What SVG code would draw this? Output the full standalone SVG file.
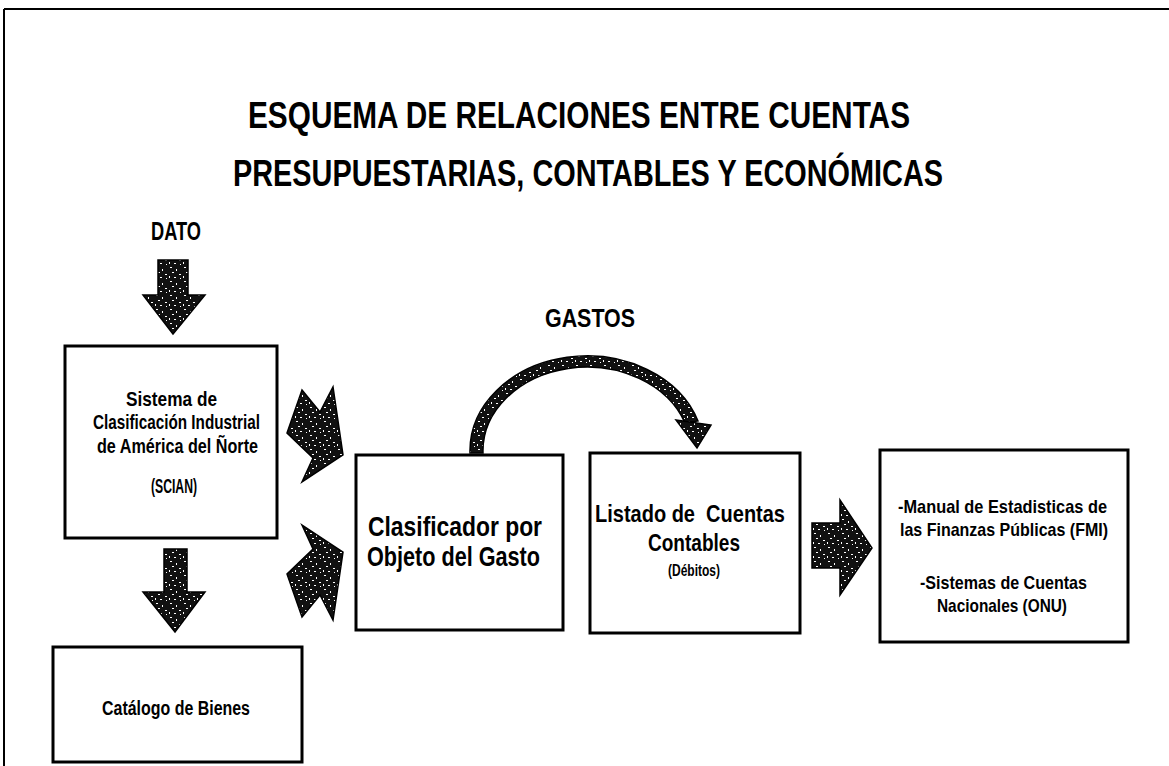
<svg xmlns="http://www.w3.org/2000/svg" width="1169" height="766" viewBox="0 0 1169 766">
<style>
.t{font-family:"Liberation Sans",Arial,sans-serif;font-weight:bold;fill:#000}
.box{fill:#fff;stroke:#000;stroke-width:3}
.blk{fill:url(#mottle);stroke:#000;stroke-width:1.5;stroke-linejoin:miter}
</style>
<defs>
<pattern id="mottle" width="14" height="14" patternUnits="userSpaceOnUse">
<rect width="14" height="14" fill="#111"/>
<rect x="2" y="1" width="2" height="1" fill="#fff"/>
<rect x="8" y="3" width="1" height="2" fill="#fff"/>
<rect x="4" y="6" width="2" height="1" fill="#fff"/>
<rect x="11" y="8" width="2" height="1" fill="#fff"/>
<rect x="1" y="10" width="1" height="2" fill="#fff"/>
<rect x="6" y="11" width="2" height="1" fill="#fff"/>
<rect x="12" y="12" width="1" height="1" fill="#fff"/>
</pattern>
</defs>
<rect width="1169" height="766" fill="#fff"/>
<g id="frame" fill="none" stroke="#000" stroke-width="2">
<path d="M4 9 H1169 M4 9 V766"/>
</g>
<g id="title">
<text class="t" x="248" y="128" font-size="37.5" textLength="662" lengthAdjust="spacingAndGlyphs">ESQUEMA DE RELACIONES ENTRE CUENTAS</text>
<text class="t" x="233" y="186" font-size="37.5" textLength="710" lengthAdjust="spacingAndGlyphs">PRESUPUESTARIAS, CONTABLES Y ECONÓMICAS</text>
</g>
<g id="dato">
<text class="t" x="151" y="240" font-size="25" textLength="50" lengthAdjust="spacingAndGlyphs">DATO</text>
</g>
<g id="gastos">
<text class="t" x="545" y="327" font-size="26" textLength="90" lengthAdjust="spacingAndGlyphs">GASTOS</text>
</g>
<g id="scian">
<rect class="box" x="65" y="346" width="212" height="192"/>
<text class="t" x="126" y="406" font-size="21" textLength="91" lengthAdjust="spacingAndGlyphs">Sistema de</text>
<text class="t" x="93" y="429" font-size="21" textLength="167" lengthAdjust="spacingAndGlyphs">Clasificación Industrial</text>
<text class="t" x="97" y="453" font-size="21" textLength="161" lengthAdjust="spacingAndGlyphs">de América del Ñorte</text>
<text class="t" x="151" y="493" font-size="21" textLength="46" lengthAdjust="spacingAndGlyphs">(SCIAN)</text>
</g>
<g id="catalogo">
<rect class="box" x="53" y="647" width="249" height="115"/>
<text class="t" x="102" y="715" font-size="20" textLength="148" lengthAdjust="spacingAndGlyphs">Catálogo de Bienes</text>
</g>
<g id="clasificador">
<rect class="box" x="356" y="455" width="207" height="175"/>
<text class="t" x="368" y="536" font-size="27" textLength="174" lengthAdjust="spacingAndGlyphs">Clasificador por</text>
<text class="t" x="367" y="566" font-size="27" textLength="173" lengthAdjust="spacingAndGlyphs">Objeto del Gasto</text>
</g>
<g id="listado">
<rect class="box" x="590" y="453" width="210" height="180"/>
<text class="t" x="595" y="522" font-size="24" textLength="190" lengthAdjust="spacingAndGlyphs" xml:space="preserve">Listado de  Cuentas</text>
<text class="t" x="648" y="551" font-size="24" textLength="92" lengthAdjust="spacingAndGlyphs">Contables</text>
<text class="t" x="668" y="576" font-size="17" textLength="52" lengthAdjust="spacingAndGlyphs">(Débitos)</text>
</g>
<g id="manual">
<rect class="box" x="880" y="450" width="248" height="192"/>
<text class="t" x="898" y="513" font-size="19" textLength="209" lengthAdjust="spacingAndGlyphs">-Manual de Estadisticas de</text>
<text class="t" x="900" y="536" font-size="19" textLength="208" lengthAdjust="spacingAndGlyphs">las Finanzas Públicas (FMI)</text>
<text class="t" x="920" y="589" font-size="19" textLength="167" lengthAdjust="spacingAndGlyphs">-Sistemas de Cuentas</text>
<text class="t" x="937" y="612" font-size="19" textLength="130" lengthAdjust="spacingAndGlyphs">Nacionales (ONU)</text>
</g>
<g id="connectors">
<polygon class="blk" points="158,260 188,260 188,295 205,295 173,334 143,295 158,295"/>
<polygon class="blk" points="164,549 187,549 187,592 205,592 175,632 143,592 164,592"/>
<polygon class="blk" points="302,390 320,412 333,387 343,455 302,482 313,458 287,433"/>
<polygon class="blk" points="302,617 320,595 333,620 343,552 302,525 313,549 287,574"/>
<polygon class="blk" points="812,523 840,523 840,500 872,548 840,595 840,568 812,568"/>
<path class="blk" d="M470 453 A117 95 0 0 1 698 421 L685 423 A104 84 0 0 0 483 453 Z"/>
<polygon class="blk" points="676,420 711,425 697,448"/>
</g>
</svg>
